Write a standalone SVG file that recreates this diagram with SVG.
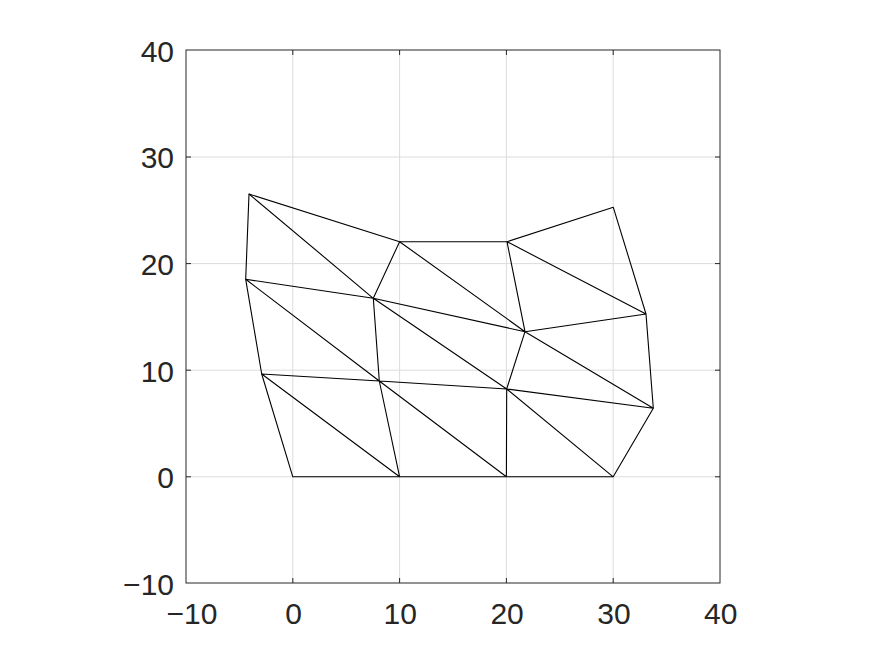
<svg xmlns="http://www.w3.org/2000/svg" width="875" height="656" viewBox="0 0 875 656">
<style>
.grid{stroke:#dcdcdc;stroke-width:1;fill:none}
.axis{stroke:#262626;stroke-width:1;fill:none}
.tick{stroke:#262626;stroke-width:1}
.lbl{font-family:"Liberation Sans",Arial,sans-serif;font-size:30px;fill:#262626}
.mesh{stroke:#000;stroke-width:1.1;fill:none;stroke-linejoin:round}
</style>
<rect width="875" height="656" fill="#fff"/>
<g id="grid">
<path class="grid" d="M292.8,50V583M399.6,50V583M506.4,50V583M613.2,50V583M186,476.8H720M186,370.2H720M186,263.6H720M186,157H720"/>
</g>
<g id="connectors">
<path class="mesh" d="M292.8,476.8L399.6,476.8L506.4,476.8L613.2,476.8L653.3,408.3L646,314L613.3,207.3L507,241.7L399.6,241.7L249,194L245.7,279.3L261.7,374L292.8,476.8Z"/>
<path class="mesh" d="M249,194L373.3,298.3M245.7,279.3L373.3,298.3M373.3,298.3L399.6,241.7M373.3,298.3L525,331.7M399.6,241.7L525,331.7M507,241.7L525,331.7M507,241.7L646,314M525,331.7L646,314M245.7,279.3L379.3,381M373.3,298.3L379.3,381M261.7,374L379.3,381M379.3,381L506.7,389M379.3,381L399.6,476.8M261.7,374L399.6,476.8M379.3,381L506.4,476.8M506.7,389L506.4,476.8M373.3,298.3L506.7,389M506.7,389L525,331.7M525,331.7L653.3,408.3M506.7,389L653.3,408.3M506.7,389L613.2,476.8"/>
</g>
<g id="axes">
<rect class="axis" x="186" y="50" width="534" height="533"/>
<path class="tick" d="M292.8,583v-5M399.6,583v-5M506.4,583v-5M613.2,583v-5M292.8,50v5M399.6,50v5M506.4,50v5M613.2,50v5M186,476.8h5M186,370.2h5M186,263.6h5M186,157h5M720,476.8h-5M720,370.2h-5M720,263.6h-5M720,157h-5"/>
<g class="lbl" text-anchor="end">
<text x="174" y="61.8">40</text>
<text x="174" y="168.3">30</text>
<text x="174" y="275">20</text>
<text x="174" y="381.6">10</text>
<text x="174" y="488.2">0</text>
<text x="174" y="594.5">−10</text>
</g>
<g class="lbl" text-anchor="middle">
<text x="192" y="623.5">−10</text>
<text x="293.5" y="623.5">0</text>
<text x="400.3" y="623.5">10</text>
<text x="507.1" y="623.5">20</text>
<text x="613.9" y="623.5">30</text>
<text x="720.7" y="623.5">40</text>
</g>
</g>
</svg>
